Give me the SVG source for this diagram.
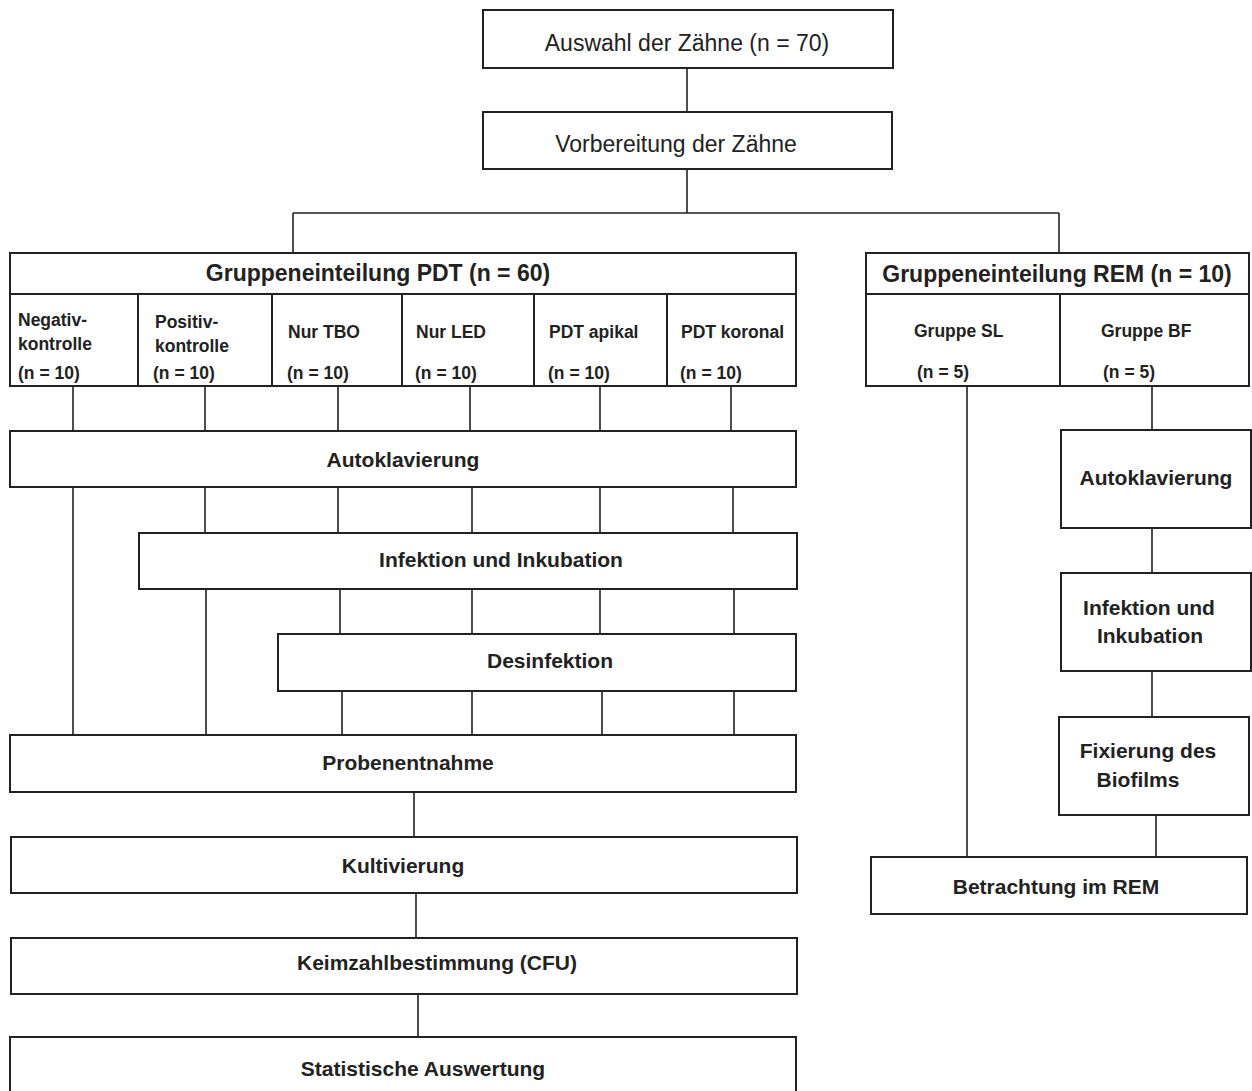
<svg xmlns="http://www.w3.org/2000/svg" width="1252" height="1091" viewBox="0 0 1252 1091">
<style>
.box{fill:#fff;stroke:#222;stroke-width:2}
.ln{fill:none;stroke:#222;stroke-width:1.6}
text{font-family:"Liberation Sans",Arial,sans-serif;fill:#222}
.t{font-size:23px}
.h{font-size:23px;font-weight:bold}
.b{font-size:21px;font-weight:bold}
.c{font-size:17.5px;font-weight:bold}
.m{text-anchor:middle}
</style>
<rect x="0" y="0" width="1252" height="1091" fill="#fff"/>
<g id="connectors">
<path class="ln" d="M687 68V112M687 169V213M293 213H1059M293 213V253M1059 213V253"/>
<path class="ln" d="M73 386V431M205 386V431M338 386V431M470 386V431M600 386V431M731 386V431"/>
<path class="ln" d="M73 487V735M205 487V533M338 487V533M472 487V533M600 487V533M733 487V533"/>
<path class="ln" d="M206 589V735M340 589V634M472 589V634M600 589V634M734 589V634"/>
<path class="ln" d="M342 691V735M472 691V735M602 691V735M734 691V735"/>
<path class="ln" d="M414 792V837M416 893V938M418 994V1037"/>
<path class="ln" d="M967 386V857M1152 386V430M1152 528V573M1152 671V717M1156 815V857"/>
</g>
<g id="auswahl"><rect class="box" x="483" y="10" width="410" height="58"/><text class="t m" x="687" y="51">Auswahl der Zähne (n = 70)</text></g>
<g id="vorbereitung"><rect class="box" x="483" y="112" width="409" height="57"/><text class="t m" x="676" y="152">Vorbereitung der Zähne</text></g>
<g id="pdt">
<rect class="box" x="10" y="253" width="786" height="133"/>
<path class="ln" style="stroke-width:2" d="M10 294H796M138 294V386M272 294V386M402 294V386M534 294V386M667 294V386"/>
<text class="h m" x="378" y="281">Gruppeneinteilung PDT (n = 60)</text>
<text class="c" x="18" y="326">Negativ-</text><text class="c" x="18" y="350">kontrolle</text><text class="c" x="18" y="379">(n = 10)</text>
<text class="c" x="155" y="328">Positiv-</text><text class="c" x="155" y="352">kontrolle</text><text class="c" x="153" y="379">(n = 10)</text>
<text class="c" x="288" y="338">Nur TBO</text><text class="c" x="287" y="379">(n = 10)</text>
<text class="c" x="416" y="338">Nur LED</text><text class="c" x="415" y="379">(n = 10)</text>
<text class="c" x="549" y="338">PDT apikal</text><text class="c" x="548" y="379">(n = 10)</text>
<text class="c" x="681" y="338">PDT koronal</text><text class="c" x="680" y="379">(n = 10)</text>
</g>
<g id="rem">
<rect class="box" x="866" y="253" width="383" height="133"/>
<path class="ln" style="stroke-width:2" d="M866 294H1249M1060 294V386"/>
<text class="h m" x="1057" y="282">Gruppeneinteilung REM (n = 10)</text>
<text class="c" x="914" y="337">Gruppe SL</text><text class="c" x="917" y="378">(n = 5)</text>
<text class="c" x="1101" y="337">Gruppe BF</text><text class="c" x="1103" y="378">(n = 5)</text>
</g>
<g id="autoklav-pdt"><rect class="box" x="10" y="431" width="786" height="56"/><text class="b m" x="403" y="467">Autoklavierung</text></g>
<g id="infektion-pdt"><rect class="box" x="139" y="533" width="658" height="56"/><text class="b m" x="501" y="567">Infektion und Inkubation</text></g>
<g id="desinfektion"><rect class="box" x="278" y="634" width="518" height="57"/><text class="b m" x="550" y="668">Desinfektion</text></g>
<g id="probenentnahme"><rect class="box" x="10" y="735" width="786" height="57"/><text class="b m" x="408" y="770">Probenentnahme</text></g>
<g id="kultivierung"><rect class="box" x="11" y="837" width="786" height="56"/><text class="b m" x="403" y="873">Kultivierung</text></g>
<g id="keimzahl"><rect class="box" x="11" y="938" width="786" height="56"/><text class="b m" x="437" y="970">Keimzahlbestimmung (CFU)</text></g>
<g id="statistik"><rect class="box" x="10" y="1037" width="786" height="62"/><text class="b m" x="423" y="1076">Statistische Auswertung</text></g>
<g id="autoklav-rem"><rect class="box" x="1061" y="430" width="190" height="98"/><text class="b m" x="1156" y="485">Autoklavierung</text></g>
<g id="infektion-rem"><rect class="box" x="1061" y="573" width="190" height="98"/><text class="b m" x="1149" y="615">Infektion und</text><text class="b m" x="1150" y="643">Inkubation</text></g>
<g id="fixierung"><rect class="box" x="1059" y="717" width="190" height="98"/><text class="b m" x="1148" y="758">Fixierung des</text><text class="b m" x="1138" y="787">Biofilms</text></g>
<g id="betrachtung"><rect class="box" x="871" y="857" width="376" height="57"/><text class="b m" x="1056" y="894">Betrachtung im REM</text></g>
</svg>
